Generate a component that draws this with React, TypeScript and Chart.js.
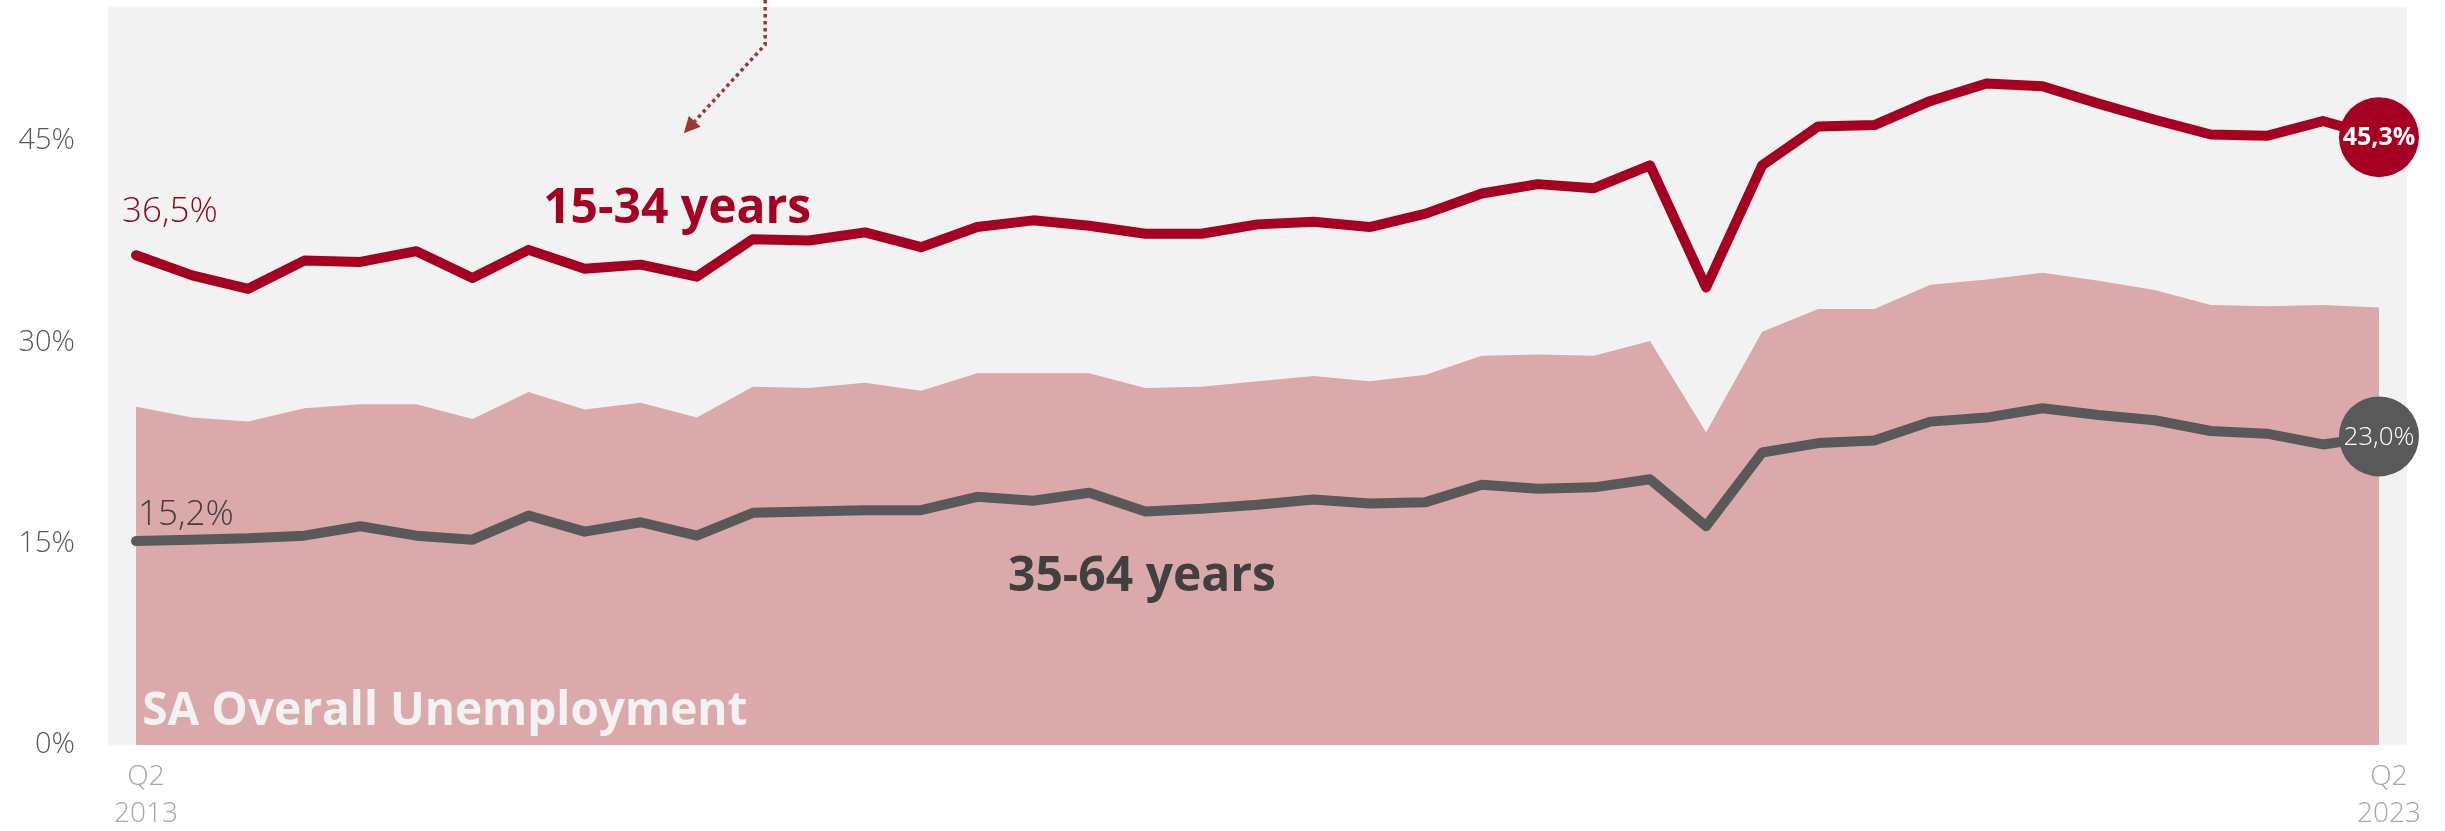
import React, { useEffect, useRef } from 'react';
import { Chart, registerables } from 'chart.js';

Chart.register(...registerables);

const quarters = [
  'Q2 2013', 'Q3 2013', 'Q4 2013', 'Q1 2014', 'Q2 2014', 'Q3 2014', 'Q4 2014',
  'Q1 2015', 'Q2 2015', 'Q3 2015', 'Q4 2015', 'Q1 2016', 'Q2 2016', 'Q3 2016',
  'Q4 2016', 'Q1 2017', 'Q2 2017', 'Q3 2017', 'Q4 2017', 'Q1 2018', 'Q2 2018',
  'Q3 2018', 'Q4 2018', 'Q1 2019', 'Q2 2019', 'Q3 2019', 'Q4 2019', 'Q1 2020',
  'Q2 2020', 'Q3 2020', 'Q4 2020', 'Q1 2021', 'Q2 2021', 'Q3 2021', 'Q4 2021',
  'Q1 2022', 'Q2 2022', 'Q3 2022', 'Q4 2022', 'Q1 2023', 'Q2 2023',
];

// 15-34 years unemployment rate (%)
const youth = [
  36.5, 35.0, 34.0, 36.1, 36.0, 36.8, 34.8, 36.9, 35.5, 35.8, 34.9, 37.7, 37.6, 38.2,
  37.1, 38.6, 39.1, 38.7, 38.1, 38.1, 38.8, 39.0, 38.6, 39.6, 41.1, 41.8, 41.5, 43.2,
  34.1, 43.2, 46.1, 46.2, 48.0, 49.3, 49.1, 47.8, 46.6, 45.5, 45.4, 46.5, 45.3,
];

// 35-64 years unemployment rate (%)
const adults = [
  15.2, 15.3, 15.4, 15.6, 16.3, 15.6, 15.3, 17.1, 15.9, 16.6, 15.6, 17.3, 17.4, 17.5,
  17.5, 18.5, 18.2, 18.8, 17.4, 17.6, 17.9, 18.3, 18.0, 18.1, 19.4, 19.1, 19.2, 19.8,
  16.3, 21.8, 22.5, 22.7, 24.1, 24.4, 25.1, 24.6, 24.2, 23.4, 23.2, 22.4, 23.0,
];

// SA overall unemployment rate (%)
const overall = [
  25.2, 24.4, 24.1, 25.1, 25.4, 25.4, 24.3, 26.3, 25.0, 25.5, 24.4, 26.7, 26.6, 27.0,
  26.4, 27.7, 27.7, 27.7, 26.6, 26.7, 27.1, 27.5, 27.1, 27.6, 29.0, 29.1, 29.0, 30.1,
  23.3, 30.8, 32.5, 32.5, 34.3, 34.7, 35.2, 34.6, 33.9, 32.8, 32.7, 32.8, 32.6,
];

const yTickValues = [0, 15, 30, 45];
const seriesNames = ['15-34 years', '35-64 years', 'SA Overall Unemployment'];

const RED = '#a50021';
const RED_TEXT = '#8e0b1b';
const GREY = '#595959';
const DARK = '#404040';
const AREA = '#dba9a9';
const PLOT_BG = '#f2f2f2';
const ARROW = '#9e3535';
const FONT = "'Open Sans', 'Noto Sans', 'DejaVu Sans', sans-serif";

const fmt = (v: number) => v.toFixed(1).replace('.', ',') + '%';

export default function App() {
  const ref = useRef<HTMLCanvasElement>(null);

  useEffect(() => {
    const canvas = ref.current;
    if (!canvas) return;
    const last = quarters.length - 1;
    const endRadius = (c: any) => (c.dataIndex === last ? 40 : 0);

    const bgPlugin = {
      id: 'plotBg',
      beforeDraw(chart: any) {
        const { ctx, chartArea: a } = chart;
        ctx.save();
        ctx.fillStyle = PLOT_BG;
        ctx.fillRect(a.left, a.top, a.right - a.left, a.bottom - a.top);
        ctx.restore();
      },
    };

    const notesPlugin = {
      id: 'notes',
      afterDatasetsDraw(chart: any) {
        const { ctx } = chart;
        const xs = chart.scales.x;
        const ys = chart.scales.y;
        const px = (i: number) => xs.getPixelForValue(i);
        const py = (v: number) => ys.getPixelForValue(v);
        ctx.save();
        ctx.textAlign = 'left';
        ctx.textBaseline = 'alphabetic';

        // series names
        ctx.font = `bold 48px ${FONT}`;
        ctx.fillStyle = RED;
        ctx.fillText(seriesNames[0], px(7.26), py(38.9));
        ctx.fillStyle = DARK;
        ctx.fillText(seriesNames[1], px(15.55), py(11.48));
        ctx.font = `bold 46px ${FONT}`;
        ctx.fillStyle = PLOT_BG;
        ctx.fillText(seriesNames[2], px(0.11), py(1.49));

        // start values
        ctx.font = `300 35px ${FONT}`;
        ctx.fillStyle = RED_TEXT;
        ctx.fillText(fmt(youth[0]), px(0) - 14, py(youth[0]) - 33);
        ctx.fillStyle = DARK;
        ctx.fillText(fmt(adults[0]), px(0) + 2, py(adults[0]) - 16);

        // end values inside circles
        ctx.textAlign = 'center';
        ctx.textBaseline = 'middle';
        ctx.fillStyle = '#ffffff';
        ctx.font = `bold 25px ${FONT}`;
        ctx.fillText(fmt(youth[last]), px(last), py(youth[last]) + 1);
        ctx.font = `300 26px ${FONT}`;
        ctx.fillText(fmt(adults[last]), px(last), py(adults[last]) + 1);

        // dotted arrow annotation
        const sx = px(11.22);
        const bendY = py(52.2);
        const tx = px(9.77);
        const ty = py(45.6);
        const dx = tx - sx;
        const dy = ty - bendY;
        const len = Math.hypot(dx, dy);
        const ux = dx / len;
        const uy = dy / len;
        const head = 16;
        ctx.strokeStyle = ARROW;
        ctx.lineWidth = 3.5;
        ctx.setLineDash([3.5, 3.5]);
        ctx.beginPath();
        ctx.moveTo(sx, 0);
        ctx.lineTo(sx, bendY);
        ctx.lineTo(tx - ux * head, ty - uy * head);
        ctx.stroke();
        ctx.setLineDash([]);
        const bx = tx - ux * head;
        const by = ty - uy * head;
        const nx = -uy;
        const ny = ux;
        ctx.fillStyle = ARROW;
        ctx.beginPath();
        ctx.moveTo(tx, ty);
        ctx.lineTo(bx + nx * 8, by + ny * 8);
        ctx.lineTo(bx - nx * 8, by - ny * 8);
        ctx.closePath();
        ctx.fill();
        ctx.restore();
      },
    };

    const chart = new Chart(canvas, {
      type: 'line',
      data: {
        labels: quarters,
        datasets: [
          {
            label: seriesNames[0],
            data: youth,
            borderColor: RED,
            borderWidth: 10,
            borderCapStyle: 'round',
            borderJoinStyle: 'round',
            pointRadius: endRadius,
            pointHoverRadius: endRadius,
            pointBackgroundColor: RED,
            pointBorderWidth: 0,
            fill: false,
            tension: 0,
            clip: false,
          },
          {
            label: seriesNames[1],
            data: adults,
            borderColor: GREY,
            borderWidth: 10,
            borderCapStyle: 'round',
            borderJoinStyle: 'round',
            pointRadius: endRadius,
            pointHoverRadius: endRadius,
            pointBackgroundColor: GREY,
            pointBorderWidth: 0,
            fill: false,
            tension: 0,
            clip: false,
          },
          {
            label: seriesNames[2],
            data: overall,
            borderWidth: 0,
            borderColor: AREA,
            backgroundColor: AREA,
            pointRadius: 0,
            fill: 'origin',
            tension: 0,
          },
        ],
      } as any,
      options: {
        responsive: false,
        animation: false,
        events: [],
        layout: { autoPadding: false, padding: { top: 7, right: 38, left: 0, bottom: 0 } },
        plugins: {
          legend: { display: false },
          tooltip: { enabled: false },
        },
        scales: {
          x: {
            type: 'category',
            offset: true,
            grid: { display: false, drawTicks: false },
            border: { display: false },
            afterFit: (s: any) => {
              s.height = 86;
              s.paddingLeft = 0;
              s.paddingRight = 0;
            },
            ticks: {
              autoSkip: false,
              maxRotation: 0,
              minRotation: 0,
              padding: 14,
              labelOffset: 10,
              color: '#a6a6a6',
              font: { family: FONT, size: 28, weight: 300, lineHeight: 1.32 },
              callback: (_v: any, i: number) =>
                i === 0 || i === last ? quarters[i].split(' ') : '',
            },
          },
          y: {
            type: 'linear',
            min: 0,
            max: 55,
            grid: { display: false, drawTicks: false },
            border: { display: false },
            afterFit: (s: any) => {
              s.width = 108;
              s.paddingTop = 0;
              s.paddingBottom = 0;
            },
            afterBuildTicks: (s: any) => {
              s.ticks = yTickValues.map((v) => ({ value: v }));
            },
            ticks: {
              padding: 33,
              color: '#595959',
              font: { family: FONT, size: 29, weight: 300 },
              callback: (v: any) => `${v}%`,
            },
          },
        },
      } as any,
      plugins: [bgPlugin, notesPlugin],
    });

    return () => chart.destroy();
  }, []);

  return (
    <div style={{ position: 'fixed', left: 0, top: 0, width: 2445, height: 831, background: '#ffffff' }}>
      <canvas ref={ref} width={2445} height={831} style={{ display: 'block' }} />
    </div>
  );
}
